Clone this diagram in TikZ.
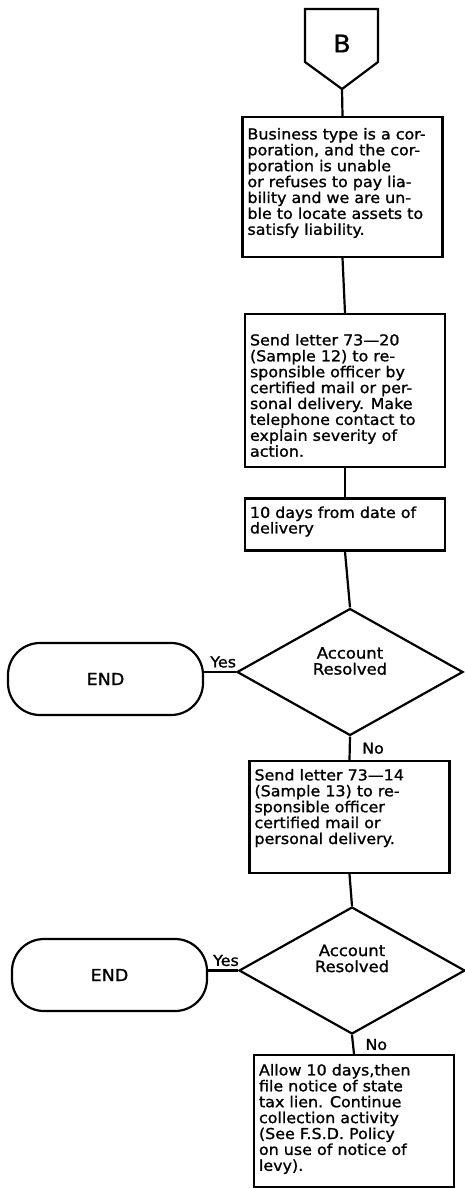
\documentclass[tikz,border=0pt]{standalone}
\usepackage{fontspec}
\setmainfont{DejaVu Sans}[FakeStretch=1.06,FakeBold=1.2]
\usepackage{tikz}
\usetikzlibrary{shapes.geometric}

\newcommand{\boxtext}[3]{\parbox[c][#1][t]{190pt}{\vspace*{#2}\raggedright #3}}

\begin{document}
\begin{tikzpicture}[x=1pt,y=-1pt,line width=2.2pt,
    every node/.style={font=\fontsize{15}{15.9}\selectfont},
    stepbox/.style={draw,rectangle,inner xsep=5pt,inner ysep=0pt},
    decision/.style={draw,diamond,aspect=1.78,minimum width=226pt,minimum height=127pt,inner sep=0pt},
    asktext/.style={align=center,font=\fontsize{15.5}{16}\selectfont},
    terminal/.style={draw,rectangle,rounded corners=32pt,minimum width=195pt,minimum height=72pt,font=\fontsize{16.5}{18}\selectfont}]
        \useasboundingbox (0,0) rectangle (465,1188);
        % off-page connector
        \draw (305,9) -- (378,9) -- (378,62) -- (342,89) coordinate (Btip) -- (305,62) -- cycle;
        \node[font=\fontsize{24}{26}\selectfont] (Blabel) at (342,43.5) {B};
        \node[stepbox] (corp) at (342.5,187) {\boxtext{140pt}{11pt}{Business type is a cor-\\ poration, and the cor-\\ poration is unable\\ or refuses to pay lia-\\ bility and we are un-\\ ble to locate assets to\\ satisfy liability.}};
        \node[stepbox] (letterA) at (345,390.5) {\boxtext{153pt}{20pt}{Send letter 73---20\\ (Sample 12) to re-\\ sponsible officer by\\ certified mail or per-\\ sonal delivery. Make\\ telephone contact to\\ explain severity of\\ action.}};
        \node[stepbox] (wait) at (345,524.5) {\boxtext{52pt}{8pt}{\fontsize{15}{12.8}\selectfont 10 days from date of\\ delivery}};
        \node[decision,label={[name=askA,asktext,yshift=11pt]center:Account\\Resolved}] (resolvedA) at (350,672) {};
        \node[terminal] (endA) at (105.5,679) {END};
        \node[stepbox] (letterB) at (349.5,817) {\boxtext{112pt}{8pt}{Send letter 73---14\\ (Sample 13) to re-\\ sponsible officer\\ certified mail or\\ personal delivery.}};
        \node[decision,label={[name=askB,asktext,yshift=12pt]center:Account\\Resolved}] (resolvedB) at (352,970.5) {};
        \node[terminal] (endB) at (109.5,975) {END};
        \node[stepbox] (lien) at (354,1121) {\boxtext{132pt}{9pt}{Allow 10 days,then\\ file notice of state\\ tax lien. Continue\\ collection activity\\ (See F.S.D. Policy\\ on use of notice of\\ levy).}};
        % connectors
        \draw (Btip) -- (corp.north);
        \draw (corp.south) -- (letterA.north);
        \draw (letterA.south) -- (wait.north);
        \draw (wait.south) -- (resolvedA.north);
        \draw (resolvedA.west) -- node[above,pos=0.4] (yesA) {Yes} (resolvedA.west -| endA.east);
        \draw (resolvedA.south) -- node[right,xshift=8pt] (noA) {No} (letterB.north);
        \draw (letterB.south) -- (resolvedB.north);
        \draw (resolvedB.west) -- node[above,pos=0.4] (yesB) {Yes} (resolvedB.west -| endB.east);
        \draw (resolvedB.south) -- node[right,xshift=8pt] (noB) {No} (lien.north);
        % \draw[help lines] (0,0) grid[step=50pt] (465,1188);
      \end{tikzpicture}
\end{document}
